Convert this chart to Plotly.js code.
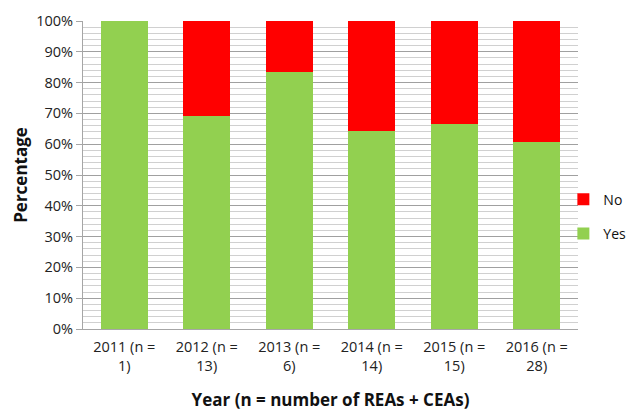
<!DOCTYPE html>
<html>
<head>
<meta charset="utf-8">
<script src="https://cdn.plot.ly/plotly-3.0.1.min.js"></script>
<style>html,body{margin:0;padding:0;background:#fff;}#chart{width:633px;height:411px;}</style>
</head>
<body>
<div id="chart"></div>
<script>
const categories = ["2011 (n =<br>1)", "2012 (n =<br>13)", "2013 (n =<br>6)", "2014 (n =<br>14)", "2015 (n =<br>15)", "2016 (n =<br>28)"];
const yesValues = [1.0, 0.692, 0.833, 0.643, 0.667, 0.607];
const noValues = [0.0, 0.308, 0.167, 0.357, 0.333, 0.393];
const yTickVals = [0, 0.1, 0.2, 0.3, 0.4, 0.5, 0.6, 0.7, 0.8, 0.9, 1.0];

const font = "Open Sans, Lato, sans-serif";
const traces = [
  {type: "bar", name: "Yes", legendgroup: "yes", legendrank: 2, x: categories, y: yesValues, marker: {color: "#92d050"}, hoverinfo: "y"},
  {type: "bar", name: "No", legendgroup: "no", legendrank: 1, x: categories, y: noValues, marker: {color: "#ff0000"}, hoverinfo: "y"}
];
const layout = {
  width: 633, height: 411,
  margin: {l: 83, r: 55, t: 21, b: 82, autoexpand: false},
  barmode: "stack",
  bargap: 0.43,
  paper_bgcolor: "#fff", plot_bgcolor: "#fff",
  font: {family: font, color: "#222", size: 14},
  showlegend: true,
  legend: {xref: "container", yref: "container", x: 0.89, xanchor: "left", y: 0.473, yanchor: "middle", traceorder: "grouped",
           font: {family: font, size: 14, color: "#111"}, itemwidth: 30, tracegroupgap: 13, bgcolor: "rgba(0,0,0,0)"},
  xaxis: {
    type: "category",
    automargin: false,
    tickfont: {family: font, size: 14.5, color: "#222"},
    ticklabelstandoff: 5,
    showline: true, linecolor: "#a6a6a6", linewidth: 1,
    ticks: "", showgrid: false,
    title: {text: "Year (n = number of REAs + CEAs)", font: {family: font, size: 17, color: "#111", weight: "bold"}, standoff: 26}
  },
  yaxis: {
    range: [0, 1], tickvals: yTickVals, tickformat: ".0%",
    automargin: false,
    tickfont: {family: font, size: 14.5, color: "#222"},
    showline: true, linecolor: "#a6a6a6", linewidth: 1,
    ticks: "outside", ticklen: 6, tickcolor: "#a6a6a6",
    showgrid: true, gridcolor: "#a0a0a0", gridwidth: 1,
    minor: {dtick: 0.02, tick0: 0, showgrid: true, gridcolor: "#d0d0d0", gridwidth: 1},
    zeroline: false,
    title: {text: "Percentage", font: {family: font, size: 17, color: "#111", weight: "bold"}, standoff: 4}
  }
};
Plotly.newPlot("chart", traces, layout, {displayModeBar: false, staticPlot: true});
</script>
</body>
</html>
